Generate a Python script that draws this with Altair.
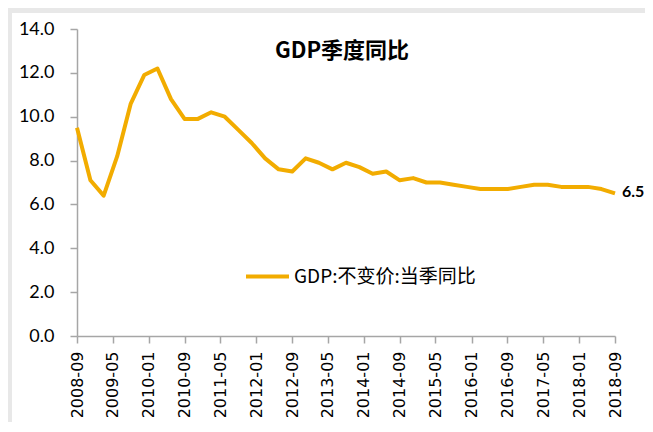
import altair as alt
import pandas as pd

quarters = ["2008-09", "2008-12", "2009-03", "2009-06", "2009-09", "2009-12",
            "2010-03", "2010-06", "2010-09", "2010-12", "2011-03", "2011-06",
            "2011-09", "2011-12", "2012-03", "2012-06", "2012-09", "2012-12",
            "2013-03", "2013-06", "2013-09", "2013-12", "2014-03", "2014-06",
            "2014-09", "2014-12", "2015-03", "2015-06", "2015-09", "2015-12",
            "2016-03", "2016-06", "2016-09", "2016-12", "2017-03", "2017-06",
            "2017-09", "2017-12", "2018-03", "2018-06", "2018-09"]
gdp = [9.5, 7.1, 6.4, 8.2, 10.6, 11.9,
       12.2, 10.8, 9.9, 9.9, 10.2, 10.0,
       9.4, 8.8, 8.1, 7.6, 7.5, 8.1,
       7.9, 7.6, 7.9, 7.7, 7.4, 7.5,
       7.1, 7.2, 7.0, 7.0, 6.9, 6.8,
       6.7, 6.7, 6.7, 6.8, 6.9, 6.9,
       6.8, 6.8, 6.8, 6.7, 6.5]
tick_labels = ["2008-09", "2009-05", "2010-01", "2010-09", "2011-05", "2012-01",
               "2012-09", "2013-05", "2014-01", "2014-09", "2015-05", "2016-01",
               "2016-09", "2017-05", "2018-01", "2018-09"]
y_ticks = [0, 2, 4, 6, 8, 10, 12, 14]
series_name = "GDP:不变价:当季同比"
title_text = "GDP季度同比"

LINE_COLOR = "#F2AC00"
AXIS_COLOR = "#A6A6A6"


def dt(s):
    y, m = s.split("-")
    return alt.DateTime(year=int(y), month=int(m), date=1, utc=True)


df = pd.DataFrame({
    "date": [q + "-01" for q in quarters],
    "value": gdp,
    "series": series_name,
})

x_enc = alt.X(
    "date:T",
    scale=alt.Scale(type="utc", domain=[dt(quarters[0]), dt(quarters[-1])]),
    axis=alt.Axis(
        values=[dt(t) for t in tick_labels],
        tickCount=40,
        labelExpr="utcFormat(datum.value, '%Y-%m')",
        labelAngle=-90,
        labelAlign="right",
        labelBaseline="middle",
        labelFont="DejaVu Sans",
        labelFontSize=16,
        labelColor="#000000",
        labelPadding=8,
        tickSize=7,
        tickColor=AXIS_COLOR,
        domainColor=AXIS_COLOR,
        domainWidth=1.5,
        tickWidth=1.5,
        grid=False,
        title=None,
        labelOverlap=False,
        labelFlush=False,
    ),
)
y_enc = alt.Y(
    "value:Q",
    scale=alt.Scale(domain=[0, 14], nice=False),
    axis=alt.Axis(
        values=y_ticks,
        format=".1f",
        labelFont="Lato",
        labelFontSize=18,
        labelColor="#000000",
        labelPadding=16,
        tickSize=7,
        tickColor=AXIS_COLOR,
        domainColor=AXIS_COLOR,
        domainWidth=1.5,
        tickWidth=1.5,
        grid=False,
        title=None,
    ),
)

base = alt.Chart(df)

line = base.mark_line(strokeWidth=4, strokeJoin="round").encode(
    x=x_enc,
    y=y_enc,
    color=alt.Color(
        "series:N",
        scale=alt.Scale(domain=[series_name], range=[LINE_COLOR]),
        legend=alt.Legend(
            orient="none",
            legendX=167,
            legendY=224,
            title=None,
            symbolType="stroke",
            symbolSize=1849,
            symbolStrokeWidth=4,
            labelFont="Noto Sans CJK SC",
            labelFontSize=19,
            labelColor="#000000",
            labelOffset=3,
            labelLimit=400,
            padding=0,
        ),
    ),
)

last_label = alt.Chart(df.tail(1)).mark_text(
    align="left", baseline="middle", dx=7, dy=-1,
    font="Lato", fontSize=16, fontWeight="bold", color="#000000",
).encode(
    x=alt.X("date:T"),
    y=alt.Y("value:Q"),
    text=alt.Text("value:Q", format=".1f"),
)

title = alt.Chart(alt.Data(values=[{"t": title_text}])).mark_text(
    align="center", baseline="middle",
    font="Noto Sans CJK SC", fontSize=22, fontWeight="bold", color="#000000",
).encode(
    x=alt.value(265), y=alt.value(22), text="t:N",
)

gray_left = alt.Chart(alt.Data(values=[{}])).mark_rect(color="#E8E8E8").encode(
    x=alt.value(-69), x2=alt.value(-65), y=alt.value(-21), y2=alt.value(400),
)
gray_top = alt.Chart(alt.Data(values=[{}])).mark_rect(color="#E8E8E8").encode(
    x=alt.value(-69), x2=alt.value(598), y=alt.value(-21), y2=alt.value(-16),
)

chart = alt.layer(gray_left, gray_top, line, last_label, title).properties(
    width=538,
    height=307,
    padding={"left": 69, "top": 21, "right": 30, "bottom": 86},
    autosize=alt.AutoSizeParams(type="none"),
    background="#FFFFFF",
).configure_view(stroke=None)

chart.save("out.html", embed_options={"renderer": "svg", "actions": False})
